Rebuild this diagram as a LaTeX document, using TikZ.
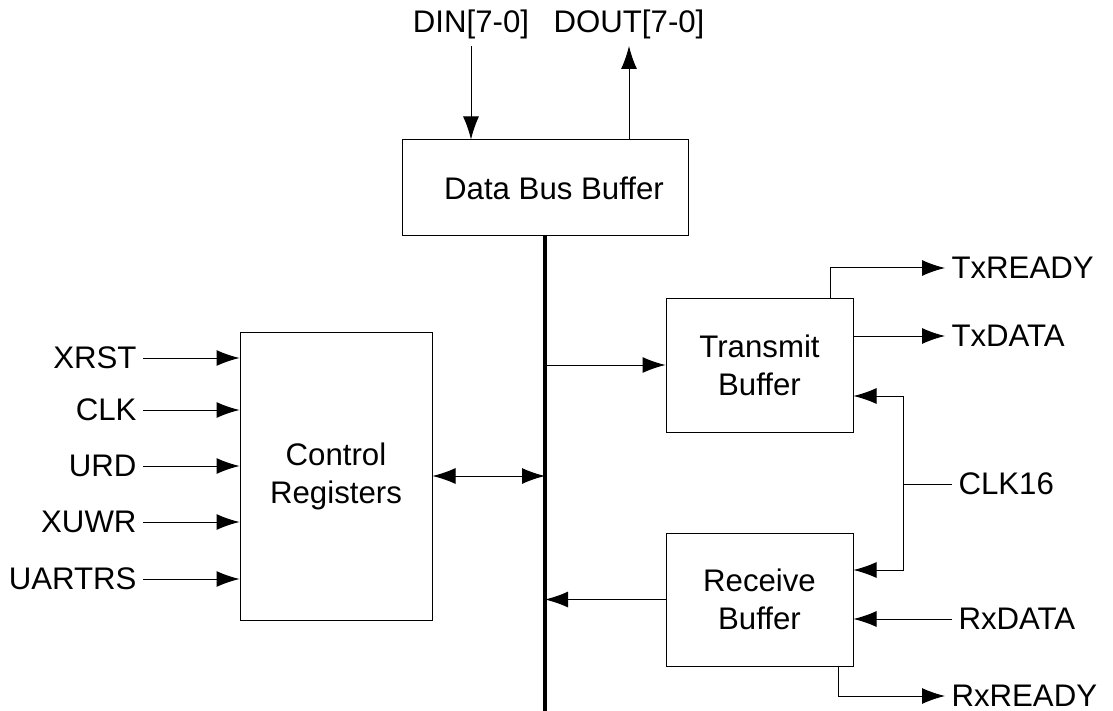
\documentclass[tikz,border=0pt]{standalone}
\usepackage{fontspec}
\setmainfont{Liberation Sans}
\usetikzlibrary{arrows.meta}
\begin{document}
\begin{tikzpicture}[x=0.5pt, y=-0.5pt, line width=0.5pt,
    >={Latex[length=11.5pt,width=8pt]},
    every node/.style={font=\fontsize{15.6}{19}\selectfont},
    block/.style={draw, align=center, inner sep=0pt},
    sig/.style={inner sep=3pt}]
  \useasboundingbox (0,0) rectangle (1113,711);
  % blocks
  \node[block, minimum width=143pt, minimum height=48pt] (dbb) at (545,188) {\hspace*{9pt}Data Bus Buffer};
  \node[block, minimum width=96pt, minimum height=144pt] (ctrl) at (336,476) {Control\\Registers};
  \node[block, minimum width=93.5pt, minimum height=67pt] (tx) at (759.5,365) {Transmit\\Buffer};
  \node[block, minimum width=93.5pt, minimum height=66.5pt] (rx) at (759.5,599.5) {Receive\\Buffer};
  % bus
  \coordinate (busend) at (545,711);
  \draw[line width=2pt] (dbb.south) -- (busend);
  % data bus pins
  \node[sig, anchor=base] (din) at (471,33) {DIN[7-0]};
  \node[sig, anchor=base] (dout) at (629,33) {DOUT[7-0]};
  \draw[->] (din.south) -- (din.south |- dbb.north);
  \draw[->] (dout.south |- dbb.north) -- (dout.south);
  % control inputs
  \node[sig, anchor=east] (xrst) at (143,358) {XRST};
  \node[sig, anchor=east] (clk) at (143,410) {CLK};
  \node[sig, anchor=east] (urd) at (143,466) {URD};
  \node[sig, anchor=east] (xuwr) at (143,522) {XUWR};
  \node[sig, anchor=east] (uartrs) at (143,579) {UARTRS};
  \draw[->] (xrst.east) -- (xrst.east -| ctrl.west);
  \draw[->] (clk.east) -- (clk.east -| ctrl.west);
  \draw[->] (urd.east) -- (urd.east -| ctrl.west);
  \draw[->] (xuwr.east) -- (xuwr.east -| ctrl.west);
  \draw[->] (uartrs.east) -- (uartrs.east -| ctrl.west);
  % bus links
  \draw[<->] (ctrl.east) -- (ctrl.east -| busend);
  \draw[->] (tx.west -| busend) -- (tx.west);
  \draw[->] (rx.west) -- (rx.west -| busend);
  % transmit side
  \node[sig, anchor=west] (txready) at (945,268) {TxREADY};
  \node[sig, anchor=west] (txdata) at (945,336) {TxDATA};
  \draw[->] ([xshift=-11.5pt]tx.north east) |- (txready.west);
  \draw[->] (txdata.west -| tx.east) -- (txdata.west);
  % clock and receive side
  \node[sig, anchor=west] (clk16) at (952,484) {CLK16};
  \node[sig, anchor=west] (rxdata) at (952,619) {RxDATA};
  \node[sig, anchor=west] (rxready) at (945,696) {RxREADY};
  \coordinate (split) at (903,484);
  \draw (clk16.west) -- (split);
  \draw[->] (split) |- ([yshift=-15.5pt]tx.east);
  \draw[->] (split) |- ([yshift=14.75pt]rx.east);
  \draw[->] (rxdata.west) -- (rxdata.west -| rx.east);
  \draw[->] ([xshift=-7.5pt]rx.south east) |- (rxready.west);
\end{tikzpicture}
\end{document}
